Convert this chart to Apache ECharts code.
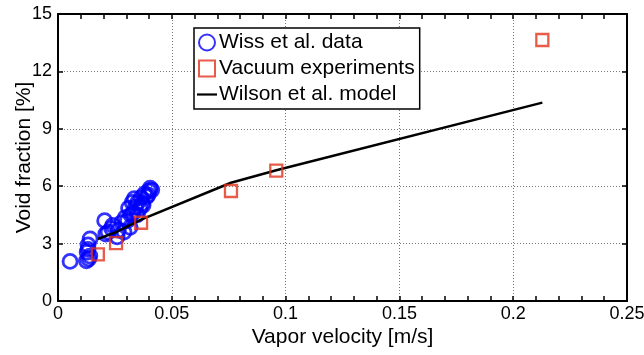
<!DOCTYPE html>
<html><head><meta charset="utf-8">
<script src="https://cdn.jsdelivr.net/npm/echarts@6/dist/echarts.min.js"></script>
<style>html,body{margin:0;padding:0;background:#fff}#c{width:644px;height:355px}</style>
</head><body><div id="c"></div>
<script>
const xTicks = [0, 0.05, 0.1, 0.15, 0.2, 0.25];
const yTicks = [0, 3, 6, 9, 12, 15];
const wissData = [
  [0.0053,2.07],[0.0125,2.1],[0.0135,2.2],[0.014,2.35],[0.0128,2.55],[0.0132,2.7],[0.0132,2.93],[0.0141,3.25],
  [0.0205,4.2],[0.021,3.5],[0.022,3.6],[0.0235,3.8],[0.024,3.95],[0.026,3.35],[0.0265,3.7],[0.028,4.1],
  [0.029,3.6],[0.0295,4.35],[0.0305,4.2],[0.031,4.85],[0.0317,3.85],[0.032,4.5],[0.0326,5.15],[0.033,4.6],
  [0.034,4.9],[0.0335,5.35],[0.035,5.15],[0.0348,4.5],[0.036,4.85],[0.0365,5.4],[0.037,5.1],[0.0374,5.0],
  [0.038,5.6],[0.039,5.45],[0.0396,5.55],[0.040,5.75],[0.0405,5.9],[0.0412,5.8]
];
const vacuumData = [[0.0175,2.44],[0.0255,3.02],[0.0365,4.09],[0.076,5.75],[0.0959,6.81],[0.2128,13.64]];
const wilsonModel = [[0.0175,3.24],[0.0255,3.6],[0.0365,4.25],[0.076,6.18],[0.0959,6.83],[0.2128,10.37]];

const font = 'Liberation Sans, Arial, Helvetica, sans-serif';
const chart = echarts.init(document.getElementById('c'));
const xBase = {
  type:'value', min:xTicks[0], max:xTicks[xTicks.length-1], interval:0.05,
  axisLine:{show:true, onZero:false, lineStyle:{color:'#000', width:2}},
  axisTick:{show:true, inside:true, length:5, lineStyle:{color:'#000', width:1.5}},
  minorTick:{show:true, splitNumber:5, length:5, lineStyle:{color:'#000', width:1.5}},
  splitLine:{show:false}
};
const yBase = {
  type:'value', min:yTicks[0], max:yTicks[yTicks.length-1], interval:3,
  axisLine:{show:true, onZero:false, lineStyle:{color:'#000', width:2}},
  axisTick:{show:true, inside:true, length:5, lineStyle:{color:'#000', width:1.5}},
  splitLine:{show:false}
};
chart.setOption({
  animation:false,
  backgroundColor:'#fff',
  textStyle:{fontFamily:font},
  grid:{left:58, right:17, top:14, bottom:54, containLabel:false, outerBoundsMode:'none'},
  legend:{
    orient:'vertical', left:194, top:28,
    backgroundColor:'#fff', borderColor:'#000', borderWidth:1.5,
    padding:[4,5,4,3], itemGap:5, itemWidth:20, itemHeight:16,
    textStyle:{fontSize:21, color:'#000', fontFamily:font, padding:[0,0,0,-3]},
    data:[
      {name:'Wiss et al. data'},
      {name:'Vacuum experiments', icon:'path://M0,0H13V13H0Z'},
      {name:'Wilson et al. model', icon:'path://M0,0H20V2.2H0Z', itemStyle:{color:'#000'}}
    ]
  },
  xAxis:[
    Object.assign({}, xBase, {position:'bottom',
      name:'Vapor velocity [m/s]', nameLocation:'middle', nameGap:26, nameMoveOverlap:false,
      nameTextStyle:{fontSize:21, color:'#000', fontFamily:font},
      axisLabel:{show:true, fontSize:18, color:'#000', margin:4, fontFamily:font,
        formatter:v=>String(+v.toFixed(2))},
      splitLine:{show:true, lineStyle:{color:'#777', type:[1,2], width:1}}
    }),
    Object.assign({}, xBase, {position:'top', axisLabel:{show:false}})
  ],
  yAxis:[
    Object.assign({}, yBase, {position:'left',
      name:'Void fraction [%]', nameLocation:'middle', nameGap:23, nameMoveOverlap:false,
      nameTextStyle:{fontSize:21, color:'#000', fontFamily:font},
      axisLabel:{show:true, fontSize:18, color:'#000', margin:6, fontFamily:font},
      splitLine:{show:true, lineStyle:{color:'#777', type:[1,2], width:1}}
    }),
    Object.assign({}, yBase, {position:'right', axisLabel:{show:false}})
  ],
  series:[
    {name:'Wiss et al. data', type:'scatter', data:wissData, symbol:'circle', symbolSize:14,
      itemStyle:{color:'rgba(255,255,255,0)', borderColor:'#0000ff', borderWidth:2.8}, z:3},
    {name:'Vacuum experiments', type:'scatter', data:vacuumData, symbol:'rect', symbolSize:12,
      itemStyle:{color:'rgba(255,255,255,0)', borderColor:'#e2321c', borderWidth:2.3}, z:5},
    {name:'Wilson et al. model', type:'line', data:wilsonModel, symbol:'none', showSymbol:false,
      lineStyle:{color:'#000', width:2.5}, itemStyle:{color:'#000'}, z:4}
  ]
});
</script></body></html>
